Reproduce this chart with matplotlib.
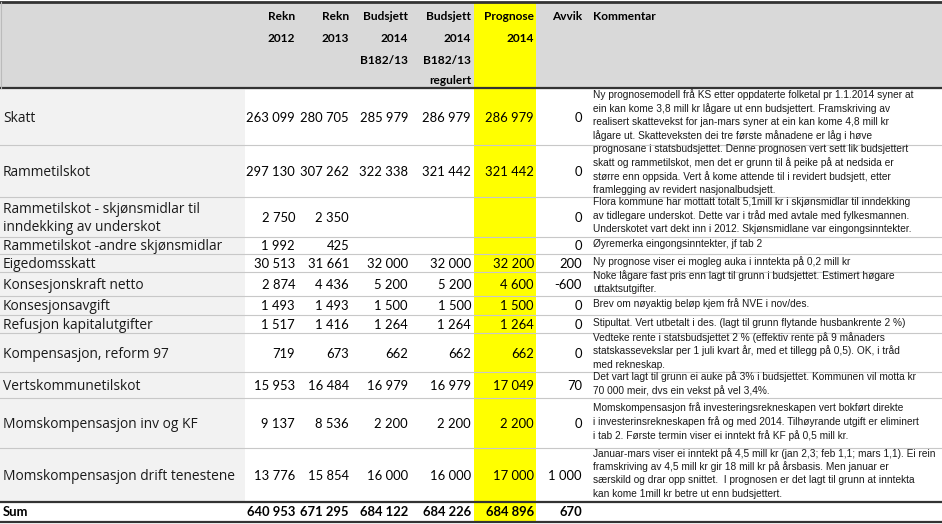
# Budsjett-tabell: skatt og rammetilskot
import matplotlib.pyplot as plt

W, H = 942, 524

labels = ["Skatt", "Rammetilskot", "Rammetilskot - skjønsmidlar til\ninndekking av underskot",
          "Rammetilskot -andre skjønsmidlar", "Eigedomsskatt", "Konsesjonskraft netto",
          "Konsesjonsavgift", "Refusjon kapitalutgifter", "Kompensasjon, reform 97",
          "Vertskommunetilskot", "Momskompensasjon inv og KF", "Momskompensasjon drift tenestene"]
rekn_2012 = ["263 099", "297 130", "2 750", "1 992", "30 513", "2 874", "1 493", "1 517", "719", "15 953", "9 137", "13 776"]
rekn_2013 = ["280 705", "307 262", "2 350", "425", "31 661", "4 436", "1 493", "1 416", "673", "16 484", "8 536", "15 854"]
budsj_2014 = ["285 979", "322 338", "", "", "32 000", "5 200", "1 500", "1 264", "662", "16 979", "2 200", "16 000"]
budsj_reg = ["286 979", "321 442", "", "", "32 000", "5 200", "1 500", "1 264", "662", "16 979", "2 200", "16 000"]
prognose = ["286 979", "321 442", "", "", "32 200", "4 600", "1 500", "1 264", "662", "17 049", "2 200", "17 000"]
avvik = ["0", "0", "0", "0", "200", "-600", "0", "0", "0", "70", "0", "1 000"]
sum_row = ["Sum", "640 953", "671 295", "684 122", "684 226", "684 896", "670"]
headers = [["Rekn", "2012"], ["Rekn", "2013"], ["Budsjett", "2014", "B182/13"],
           ["Budsjett", "2014", "B182/13", "regulert"], ["Prognose", "2014"], ["Avvik"]]
kommentar = [
    ["Ny prognosemodell frå KS etter oppdaterte folketal pr 1.1.2014 syner at",
     "ein kan kome 3,8 mill kr lågare ut enn budsjettert. Framskriving av",
     "realisert skattevekst for jan-mars syner at ein kan kome 4,8 mill kr",
     "lågare ut. Skatteveksten dei tre første månadene er låg i høve"],
    ["prognosane i statsbudsjettet. Denne prognosen vert sett lik budsjettert",
     "skatt og rammetilskot, men det er grunn til å peike på at nedsida er",
     "større enn oppsida. Vert å kome attende til i revidert budsjett, etter",
     "framlegging av revidert nasjonalbudsjett."],
    ["Flora kommune har mottatt totalt 5,1mill kr i skjønsmidlar til inndekking",
     "av tidlegare underskot. Dette var i tråd med avtale med fylkesmannen.",
     "Underskotet vart dekt inn i 2012. Skjønsmidlane var eingongsinntekter."],
    ["Øyremerka eingongsinntekter, jf tab 2"],
    ["Ny prognose viser ei mogleg auka i inntekta på 0,2 mill kr"],
    ["Noke lågare fast pris enn lagt til grunn i budsjettet. Estimert høgare",
     "uttaktsutgifter."],
    ["Brev om nøyaktig beløp kjem frå NVE i nov/des."],
    ["Stipultat. Vert utbetalt i des. (lagt til grunn flytande husbankrente 2 %)"],
    ["Vedteke rente i statsbudsjettet 2 % (effektiv rente på 9 månaders",
     "statskassevekslar per 1 juli kvart år, med et tillegg på 0,5). OK, i tråd",
     "med rekneskap."],
    ["Det vart lagt til grunn ei auke på 3% i budsjettet. Kommunen vil motta kr",
     "70 000 meir, dvs ein vekst på vel 3,4%."],
    ["Momskompensasjon frå investeringsrekneskapen vert bokført direkte",
     "i investerinsrekneskapen frå og med 2014. Tilhøyrande utgift er eliminert",
     "i tab 2. Første termin viser ei inntekt frå KF på 0,5 mill kr."],
    ["Januar-mars viser ei inntekt på 4,5 mill kr (jan 2,3; feb 1,1; mars 1,1). Ei rein",
     "framskriving av 4,5 mill kr gir 18 mill kr på årsbasis. Men januar er",
     "særskild og drar opp snittet.  I prognosen er det lagt til grunn at inntekta",
     "kan kome 1mill kr betre ut enn budsjettert."],
]

# layout (pixels)
row_edges = [88, 145, 197, 237, 254, 272, 296, 315, 333, 372, 398, 448, 502, 522]
col_right = [295, 349, 408, 471, 534, 582]
label_w = 245
yel_l, yel_r = 474, 536
kom_x = 593

num_font = "Lato"
lab_font = "Open Sans"
txt_font = "Liberation Sans"

fig = plt.figure(figsize=(W / 100, H / 100), dpi=100)
ax = fig.add_axes([0, 0, 1, 1])
ax.set_xlim(0, W)
ax.set_ylim(H, 0)
ax.axis("off")

# backgrounds
ax.axhspan(2, 88, color="#d9d9d9", zorder=0)
ax.fill_between([0, label_w], 88, 502, color="#f2f2f2", zorder=0, lw=0)
ax.fill_between([yel_l, yel_r], 2, 522, color="#ffff00", zorder=1, lw=0)

# lines
for y in row_edges[1:-2]:
    ax.plot([0, W], [y, y], color="#c8c8c8", lw=0.8, zorder=2)
ax.plot([0, W], [2, 2], color="#333333", lw=2, zorder=3)
ax.plot([0, W], [88, 88], color="#333333", lw=1.6, zorder=3)
ax.plot([0, W], [502, 502], color="#333333", lw=1.6, zorder=3)
ax.plot([0, W], [522, 522], color="#333333", lw=1.6, zorder=3)
ax.plot([1, 1], [2, 88], color="#bbbbbb", lw=0.8, zorder=3)

# header
head_y = [17, 38, 60, 81]
for h, xr in zip(headers, col_right):
    for k, t in enumerate(h):
        ax.text(xr, head_y[k], t, ha="right", va="center", fontsize=8.6,
                fontweight="bold", family=num_font, zorder=4)
ax.text(kom_x, 17, "Kommentar", ha="left", va="center", fontsize=8.6,
        fontweight="bold", family=num_font, zorder=4)

# body
cols = [rekn_2012, rekn_2013, budsj_2014, budsj_reg, prognose, avvik]
for i, lab in enumerate(labels):
    yc = (row_edges[i] + row_edges[i + 1]) / 2
    ax.text(3, yc + 1.5, lab, ha="left", va="center", fontsize=9.9, family=lab_font,
            linespacing=1.25, color="#1a1a1a", zorder=4)
    for col, xr in zip(cols, col_right):
        ax.text(xr, yc + 1, col[i], ha="right", va="center", fontsize=9.4,
                family=num_font, zorder=4)
    lines = kommentar[i]
    n = len(lines)
    for k, t in enumerate(lines):
        ax.text(kom_x, yc - 1.5 + (k - (n - 1) / 2) * 13.6, t, ha="left", va="center",
                fontsize=7.3, family=txt_font, color="#1a1a1a", zorder=4)

# sum row
ys = (row_edges[-2] + row_edges[-1]) / 2
ax.text(3, ys, sum_row[0], ha="left", va="center", fontsize=9.4,
        fontweight="bold", family=num_font, zorder=4)
for t, xr in zip(sum_row[1:], col_right):
    ax.text(xr, ys, t, ha="right", va="center", fontsize=9.4,
            fontweight="bold", family=num_font, zorder=4)

fig.savefig("out.png", dpi=100)
